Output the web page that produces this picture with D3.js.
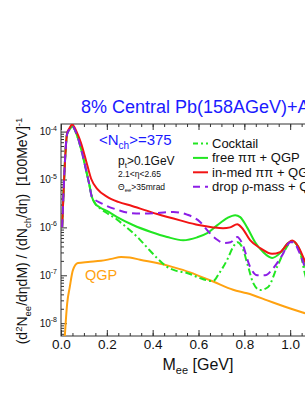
<!DOCTYPE html>
<html><head><meta charset="utf-8">
<script src="https://cdn.jsdelivr.net/npm/d3@7"></script>
<style>
body{margin:0;background:#fff}
svg{display:block}
text{font-family:"Liberation Sans",Arial,Helvetica,sans-serif}
</style>
</head><body><div id="chart"></div>
<script>
// ---- data (x: M_ee in GeV, y: yield) ----
const cocktail = [[0.005,1.0e-6],[0.027,9.0e-5],[0.038,1.12e-4],[0.048,1.3e-4],[0.074,7.3e-5],[0.096,3.0e-5],[0.109,1.6e-5],[0.122,8.5e-6],[0.135,4.3e-6],[0.148,3.2e-6],[0.17,2.5e-6],[0.2,2.0e-6],[0.245,1.45e-6],[0.271,1.15e-6],[0.31,8.0e-7],[0.345,5.5e-7],[0.38,3.6e-7],[0.419,2.3e-7],[0.463,1.5e-7],[0.5,1.25e-7],[0.55,1.12e-7],[0.6,9.0e-8],[0.64,7.8e-8],[0.664,7.6e-8],[0.69,1.1e-7],[0.725,2.1e-7],[0.751,3.9e-7],[0.769,4.9e-7],[0.79,3.9e-7],[0.817,1.5e-7],[0.838,7.0e-8],[0.869,4.9e-8],[0.904,5.7e-8],[0.943,1.5e-7],[0.978,3.4e-7],[1.009,5.2e-7],[1.044,2.9e-7],[1.066,1.0e-7],[1.1,4.0e-8]];
const freePiPi = [[0.005,1.0e-6],[0.027,9.0e-5],[0.038,1.12e-4],[0.048,1.3e-4],[0.074,7.3e-5],[0.096,3.0e-5],[0.109,1.6e-5],[0.122,8.5e-6],[0.135,4.3e-6],[0.148,3.2e-6],[0.17,2.6e-6],[0.2,2.2e-6],[0.245,1.64e-6],[0.314,1.12e-6],[0.393,8.0e-7],[0.463,6.3e-7],[0.533,5.4e-7],[0.594,6.2e-7],[0.638,7.6e-7],[0.681,1.1e-6],[0.725,1.56e-6],[0.76,1.8e-6],[0.782,1.64e-6],[0.812,1.0e-6],[0.847,4.9e-7],[0.882,3.05e-7],[0.921,2.3e-7],[0.956,2.9e-7],[0.991,4.7e-7],[1.009,5.2e-7],[1.035,3.9e-7],[1.066,1.5e-7],[1.1,6.0e-8]];
const inMedPiPi = [[0.005,1.0e-6],[0.027,9.5e-5],[0.038,1.2e-4],[0.048,1.4e-4],[0.074,8.5e-5],[0.087,5.8e-5],[0.109,2.5e-5],[0.131,1.05e-5],[0.16,6.2e-6],[0.2,4.4e-6],[0.25,3.4e-6],[0.31,2.8e-6],[0.42,1.9e-6],[0.52,1.4e-6],[0.6,1.12e-6],[0.664,1.0e-6],[0.707,9.6e-7],[0.738,1.0e-6],[0.769,1.16e-6],[0.79,9.7e-7],[0.825,5.4e-7],[0.869,3.7e-7],[0.921,2.8e-7],[0.956,3.05e-7],[0.991,4.7e-7],[1.009,5.3e-7],[1.035,4.0e-7],[1.066,1.9e-7],[1.1,9.0e-8]];
const dropRho = [[0.005,1.0e-6],[0.027,9.0e-5],[0.038,1.12e-4],[0.048,1.3e-4],[0.074,7.3e-5],[0.096,3.0e-5],[0.109,1.6e-5],[0.122,8.5e-6],[0.135,4.3e-6],[0.15,3.7e-6],[0.17,3.3e-6],[0.2,2.8e-6],[0.25,2.3e-6],[0.3,2.0e-6],[0.35,1.95e-6],[0.42,2.0e-6],[0.49,2.1e-6],[0.55,1.85e-6],[0.607,1.3e-6],[0.64,8.5e-7],[0.68,5.6e-7],[0.71,4.7e-7],[0.74,4.9e-7],[0.769,6.3e-7],[0.79,4.7e-7],[0.825,1.5e-7],[0.856,1.0e-7],[0.891,1.0e-7],[0.926,1.4e-7],[0.965,2.6e-7],[1.0,4.9e-7],[1.013,4.9e-7],[1.04,3.0e-7],[1.066,1.4e-7],[1.1,5.0e-8]];
const qgp = [[0.015,4.0e-9],[0.027,2.6e-8],[0.038,5.6e-8],[0.052,1.28e-7],[0.074,1.8e-7],[0.118,1.9e-7],[0.175,2.0e-7],[0.22,2.2e-7],[0.262,2.4e-7],[0.3,2.35e-7],[0.345,2.1e-7],[0.419,1.8e-7],[0.489,1.48e-7],[0.563,1.15e-7],[0.607,9.5e-8],[0.664,7.4e-8],[0.751,5.0e-8],[0.812,4.2e-8],[0.9,3.0e-8],[0.956,2.4e-8],[1.066,1.6e-8],[1.2,1.0e-8]];

const xTicks = [0.0,0.2,0.4,0.6,0.8,1.0,1.2];
const xTickLabels = ["0.0","0.2","0.4","0.6","0.8","1.0","1.2"];
const yTickExps = [-4,-5,-6,-7,-8];
const legendLabels = ["Cocktail","free \u03c0\u03c0 + QGP","in-med \u03c0\u03c0 + QGP","drop \u03c1-mass + QGP"];

// ---- layout ----
const W=305,H=395;
const L=61,T=124,R=336,B=336;
const x = d3.scaleLinear().domain([0,1.2]).range([L,R]);
const y = d3.scaleLog().domain([5.4e-9,1.44e-4]).range([B,T]);

const svg = d3.select("#chart").append("svg").attr("width",W).attr("height",H);
svg.append("rect").attr("width",W).attr("height",H).attr("fill","#fff");

svg.append("clipPath").attr("id","clip").append("rect")
  .attr("x",L).attr("y",T).attr("width",R-L).attr("height",B-T);

const frameCol="#333";
const gxB = svg.append("g").attr("transform",`translate(0,${B})`)
  .call(d3.axisBottom(x).tickValues(xTicks).tickSizeInner(-6).tickSizeOuter(0).tickPadding(3).tickFormat((d,i)=>xTickLabels[i]));
const gxBm = svg.append("g").attr("transform",`translate(0,${B})`)
  .call(d3.axisBottom(x).tickValues(d3.range(0,1.2001,0.05)).tickSizeInner(-3).tickSizeOuter(0).tickFormat(""));
const gxT = svg.append("g").attr("transform",`translate(0,${T})`)
  .call(d3.axisTop(x).tickValues(xTicks).tickSizeInner(-6).tickSizeOuter(0).tickFormat(""));
const gxTm = svg.append("g").attr("transform",`translate(0,${T})`)
  .call(d3.axisTop(x).tickValues(d3.range(0,1.2001,0.05)).tickSizeInner(-3).tickSizeOuter(0).tickFormat(""));
const minorY=[];
for(let e=-9;e<=-4;e++){for(let k=2;k<=9;k++){const v=k*Math.pow(10,e); if(v>=5.4e-9&&v<=1.44e-4) minorY.push(v);}}
const majorY = yTickExps.map(e=>Math.pow(10,e));
const gyL = svg.append("g").attr("transform",`translate(${L},0)`)
  .call(d3.axisLeft(y).tickValues(majorY).tickSizeInner(-6).tickSizeOuter(0).tickFormat(""));
const gyLm = svg.append("g").attr("transform",`translate(${L},0)`)
  .call(d3.axisLeft(y).tickValues(minorY).tickSizeInner(-3).tickSizeOuter(0).tickFormat(""));
const gyR = svg.append("g").attr("transform",`translate(${R},0)`)
  .call(d3.axisRight(y).tickValues(majorY).tickSizeInner(-6).tickSizeOuter(0).tickFormat(""));
[gxB,gxBm,gxT,gxTm,gyL,gyLm,gyR].forEach(g=>{
  g.select(".domain").remove();
  g.selectAll("line").attr("stroke",frameCol);
});
gxB.selectAll("text").attr("font-size","13.5px").attr("fill","#111")
  .attr("font-family","'Liberation Sans',Arial,sans-serif");

yTickExps.forEach(e=>{
  const t = svg.append("text").attr("x",57).attr("y",y(Math.pow(10,e))+3.6)
    .attr("text-anchor","end").attr("font-size","10px").attr("fill","#111");
  t.append("tspan").text("10");
  t.append("tspan").attr("dy",-4.5).attr("font-size","7px").text(String(e));
});

svg.append("rect").attr("x",L).attr("y",T).attr("width",R-L).attr("height",B-T)
  .attr("fill","none").attr("stroke",frameCol).attr("stroke-width",1);

const line = d3.line().x(d=>x(d[0])).y(d=>y(d[1])).curve(d3.curveMonotoneX);
const gC = svg.append("g").attr("clip-path","url(#clip)");
const GREEN="#22e622", RED="#f21414", PURPLE="#8c1ee6", ORANGE="#ffa210", BLUE="#1a1aff";
const series = [
  {d:qgp, c:ORANGE, dash:null},
  {d:cocktail, c:GREEN, dash:"7,3,2,3"},
  {d:freePiPi, c:GREEN, dash:null},
  {d:inMedPiPi, c:RED, dash:null},
  {d:dropRho, c:PURPLE, dash:"8,5"}
];
series.forEach(s=>{
  gC.append("path").datum(s.d).attr("d",line).attr("fill","none")
    .attr("stroke",s.c).attr("stroke-width",2).attr("stroke-dasharray",s.dash);
});

const legStyles=[{c:GREEN,dash:"5,3,2,3"},{c:GREEN,dash:null},{c:RED,dash:null},{c:PURPLE,dash:"7,5"}];
legendLabels.forEach((lab,i)=>{
  const by = 148 + i*14.4;
  svg.append("line").attr("x1",193).attr("x2",208).attr("y1",by-4.5).attr("y2",by-4.5)
    .attr("stroke",legStyles[i].c).attr("stroke-width",2).attr("stroke-dasharray",legStyles[i].dash);
  svg.append("text").attr("x",212).attr("y",by).attr("font-size","13px").attr("fill","#111")
    .style("white-space","pre").text(lab);
});

svg.append("text").attr("x",81).attr("y",113).attr("font-size","18px").attr("fill",BLUE)
  .text("8% Central Pb(158AGeV)+Au");

const tn = svg.append("text").attr("x",99).attr("y",145).attr("font-size","15px").attr("fill",BLUE);
tn.append("tspan").text("<N");
tn.append("tspan").attr("dy",4).attr("font-size","10px").text("ch");
tn.append("tspan").attr("dy",-4).text(">=375");

const tp = svg.append("text").attr("x",118).attr("y",165).attr("font-size","12px").attr("fill","#111");
tp.append("tspan").text("p");
tp.append("tspan").attr("dy",3).attr("font-size","8px").text("t");
tp.append("tspan").attr("dy",-3).text(">0.1GeV");
svg.append("text").attr("x",118).attr("y",177).attr("font-size","8.5px").attr("fill","#111").text("2.1<\u03b7<2.65");
const tt = svg.append("text").attr("x",118).attr("y",190).attr("font-size","8.5px").attr("fill","#111");
tt.append("tspan").text("\u0398");
tt.append("tspan").attr("dy",2).attr("font-size","6px").text("ee");
tt.append("tspan").attr("dy",-2).text(">35mrad");

svg.append("text").attr("x",85).attr("y",280).attr("font-size","14.5px").attr("fill",ORANGE).text("QGP");

const tx = svg.append("text").attr("x",198).attr("y",370).attr("text-anchor","middle").attr("font-size","16px").attr("fill","#111");
tx.append("tspan").text("M");
tx.append("tspan").attr("dy",4).attr("font-size","11px").text("ee");
tx.append("tspan").attr("dy",-4).style("white-space","pre").text(" [GeV]");

const ty = svg.append("text").attr("transform","translate(27,231) rotate(-90)")
  .attr("text-anchor","middle").attr("font-size","14px").attr("fill","#111").style("white-space","pre");
ty.append("tspan").text("(d");
ty.append("tspan").attr("dy",-5).attr("font-size","9.5px").text("2");
ty.append("tspan").attr("dy",5).text("N");
ty.append("tspan").attr("dy",4).attr("font-size","9.5px").text("ee");
ty.append("tspan").attr("dy",-4).text("/d\u03b7dM) / (dN");
ty.append("tspan").attr("dy",4).attr("font-size","9.5px").text("ch");
ty.append("tspan").attr("dy",-4).text("/d\u03b7)  [100MeV]");
ty.append("tspan").attr("dy",-5).attr("font-size","9.5px").text("-1");
</script>
</body></html>
